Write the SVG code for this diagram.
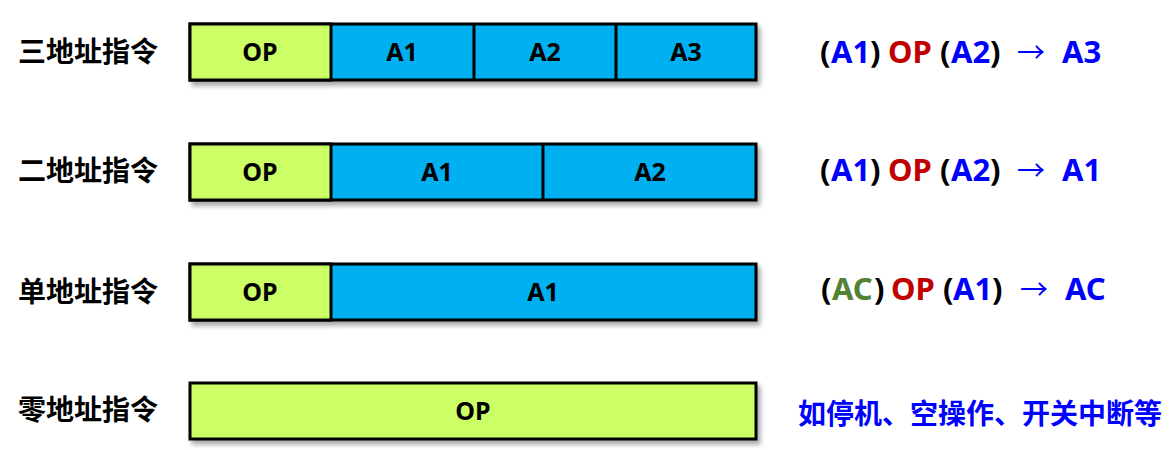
<svg xmlns="http://www.w3.org/2000/svg" width="1172" height="450" viewBox="0 0 1172 450">
<defs>
<filter id="sh" x="-5%" y="-20%" width="110%" height="150%">
<feGaussianBlur in="SourceAlpha" stdDeviation="2.5"/>
<feOffset dx="3" dy="4" result="b"/>
<feComponentTransfer><feFuncA type="linear" slope="0.35"/></feComponentTransfer>
<feMerge><feMergeNode/><feMergeNode in="SourceGraphic"/></feMerge>
</filter>
</defs>
<style>
text{font-family:"Noto Sans","Noto Sans CJK SC",sans-serif;font-weight:bold}
.lbl{font-size:28px;fill:#000}
.cell{font-size:25px;fill:#000;text-anchor:middle;dominant-baseline:central}
.g{fill:#CCFF66;stroke:#000;stroke-width:3}
.b{fill:#00B0F0;stroke:#000;stroke-width:3}
.div{stroke:#000;stroke-width:3}
.f{font-size:31px;fill:#000;dominant-baseline:central}
.ar{font-family:"Noto Sans CJK SC",sans-serif;font-weight:normal;font-size:28px}
.bl{fill:#0000FF}.rd{fill:#C00000}.gr{fill:#548235}
</style>
<rect width="1172" height="450" fill="#fff"/>
<g id="row1">
<text class="lbl" x="18" y="62">三地址指令</text>
<g filter="url(#sh)">
<rect class="b" x="190" y="24" width="566" height="56"/>
<rect class="g" x="190" y="24" width="141" height="56"/>
<line class="div" x1="474" y1="24" x2="474" y2="80"/>
<line class="div" x1="616" y1="24" x2="616" y2="80"/>
</g>
<text class="cell" x="260" y="51">OP</text>
<text class="cell" x="402" y="51">A1</text>
<text class="cell" x="545" y="51">A2</text>
<text class="cell" x="686" y="51">A3</text>
<text class="f" y="51"><tspan x="820">(</tspan><tspan class="bl" x="831">A1</tspan><tspan x="870">)</tspan><tspan class="rd" x="888">OP</tspan><tspan x="940">(</tspan><tspan class="bl" x="951">A2</tspan><tspan x="990">)</tspan><tspan class="bl ar" x="1017">→</tspan><tspan class="bl" x="1062">A3</tspan></text>
</g>
<g id="row2">
<text class="lbl" x="18" y="181">二地址指令</text>
<g filter="url(#sh)">
<rect class="b" x="190" y="144" width="566" height="56"/>
<rect class="g" x="190" y="144" width="141" height="56"/>
<line class="div" x1="543" y1="144" x2="543" y2="200"/>
</g>
<text class="cell" x="260" y="171">OP</text>
<text class="cell" x="437" y="171">A1</text>
<text class="cell" x="650" y="171">A2</text>
<text class="f" y="169"><tspan x="820">(</tspan><tspan class="bl" x="831">A1</tspan><tspan x="870">)</tspan><tspan class="rd" x="888">OP</tspan><tspan x="940">(</tspan><tspan class="bl" x="951">A2</tspan><tspan x="990">)</tspan><tspan class="bl ar" x="1017">→</tspan><tspan class="bl" x="1062">A1</tspan></text>
</g>
<g id="row3">
<text class="lbl" x="18" y="302">单地址指令</text>
<g filter="url(#sh)">
<rect class="b" x="190" y="264" width="566" height="56"/>
<rect class="g" x="190" y="264" width="141" height="56"/>
</g>
<text class="cell" x="260" y="291">OP</text>
<text class="cell" x="543" y="291">A1</text>
<text class="f" y="288"><tspan x="821">(</tspan><tspan class="gr" x="832">AC</tspan><tspan x="874">)</tspan><tspan class="rd" x="891">OP</tspan><tspan x="943">(</tspan><tspan class="bl" x="953">A1</tspan><tspan x="992">)</tspan><tspan class="bl ar" x="1020">→</tspan><tspan class="bl" x="1065">AC</tspan></text>
</g>
<g id="row4">
<text class="lbl" x="18" y="420">零地址指令</text>
<g filter="url(#sh)">
<rect class="g" x="190" y="383" width="566" height="56"/>
</g>
<text class="cell" x="473" y="410">OP</text>
<text class="f bl" x="798" y="412" style="font-family:'Noto Sans CJK SC',sans-serif;font-size:28px">如停机、空操作、开关中断等</text>
</g>
<g id="connectors"></g>
</svg>
